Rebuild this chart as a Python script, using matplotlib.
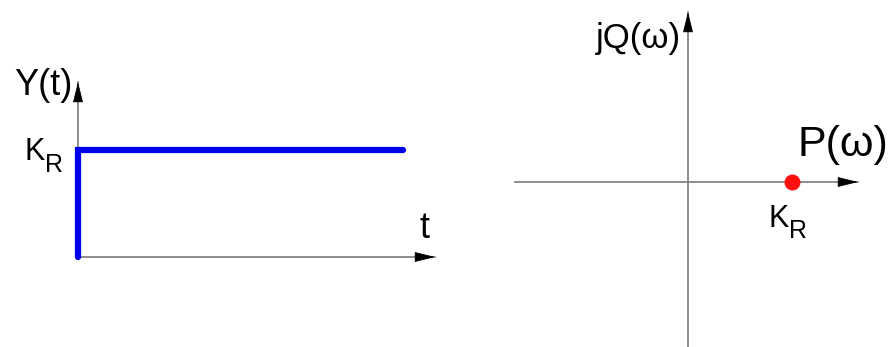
import matplotlib
matplotlib.use("Agg")
import matplotlib.pyplot as plt

plt.rcParams['font.family'] = ['Liberation Sans', 'DejaVu Sans']

# Step response of a proportional element and its frequency-plane point
K_R = 1.0
step_t = [0.0, 0.0, 10.0]
step_y = [0.0, K_R, K_R]
point_P = [K_R]
point_Q = [0.0]

W, H = 888, 347
fig = plt.figure(figsize=(W / 100, H / 100), dpi=100)


def fig_axes(x0, y_top, x1, y_bot):
    return fig.add_axes([x0 / W, 1 - y_bot / H, (x1 - x0) / W, (y_bot - y_top) / H])


def ftext(px, py, s, **kw):
    fig.text(px / W, 1 - py / H, s, **kw)


def gain_label(px, py, size_k, size_r, r_dx, r_dy):
    # "K" with a large, low-set subscript "R"
    ftext(px, py, 'K', fontsize=size_k, ha='left', va='baseline')
    ftext(px + r_dx, py + r_dy, 'R', fontsize=size_r, ha='left', va='baseline')


axis_grey = '#7a7a7a'
head = dict(arrowstyle='-|>,head_length=1.3,head_width=0.32', color='black',
            lw=0.6, shrinkA=0, shrinkB=0, mutation_scale=10)


def axis_arrow(ax, start, end, dx, dy):
    ax.plot([start[0], end[0]], [start[1], end[1]], color=axis_grey, lw=1.2,
            clip_on=False, zorder=1)
    ax.annotate('', xy=end, xytext=(dx, dy), textcoords='offset points',
                arrowprops=head, annotation_clip=False)


# ---- time response Y(t) ----
t_max, y_max = 11.0, 1.636
ax1 = fig_axes(78, 82, 435, 257)
ax1.set_xlim(0, t_max)
ax1.set_ylim(0, y_max)
ax1.axis('off')
axis_arrow(ax1, (0, 0), (t_max, 0), -12, 0)
axis_arrow(ax1, (0, 0), (0, y_max), 0, -12)
ax1.plot(step_t, step_y, color='#0000ee', lw=4.5, solid_capstyle='round',
         solid_joinstyle='miter', clip_on=False, zorder=3)

ftext(73, 95, 'Y(t)', fontsize=26, ha='right', va='baseline')
gain_label(24, 160, 22, 18, 21, 12)
ftext(424, 238, 't', fontsize=26, ha='center', va='baseline')

# ---- complex plane P(ω) + jQ(ω) ----
scale = 104.0
ax2 = fig_axes(515, 12, 858, 347)
ax2.set_xlim(-(688 - 515) / scale, (858 - 688) / scale)
ax2.set_ylim(-(347 - 182) / scale, (182 - 12) / scale)
ax2.axis('off')
x_lo, x_hi = ax2.get_xlim()
y_lo, y_hi = ax2.get_ylim()
axis_arrow(ax2, (x_lo, 0), (x_hi, 0), -12, 0)
axis_arrow(ax2, (0, y_lo), (0, y_hi), 0, -12)
ax2.plot(point_P, point_Q, 'o', color='#ff1010', markersize=11.5,
         markeredgewidth=0, clip_on=False, zorder=3)

ftext(681, 48, 'jQ(ω)', fontsize=25, ha='right', va='baseline')
ftext(797, 156, 'P(ω)', fontsize=31, ha='left', va='baseline')
gain_label(768, 227, 22, 18, 21, 11)

fig.savefig('out.png', dpi=100, facecolor='white')
